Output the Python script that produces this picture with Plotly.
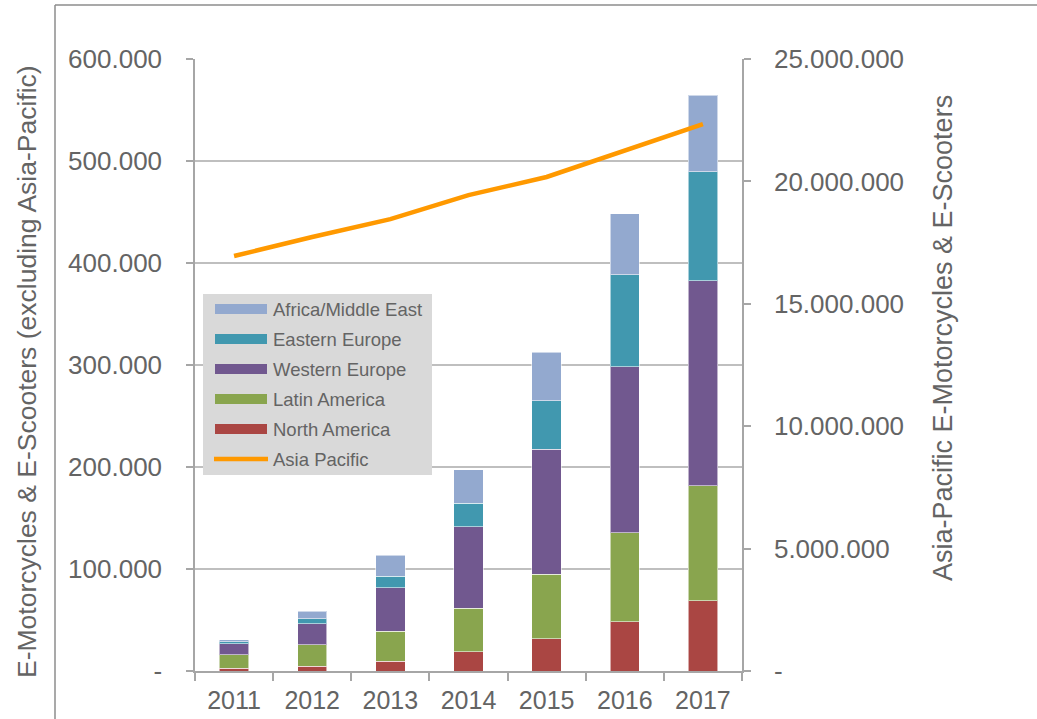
import plotly.graph_objects as go

# ---------------- data ----------------
years = ["2011", "2012", "2013", "2014", "2015", "2016", "2017"]

north_america = [2600, 4900, 9500, 18900, 31700, 48400, 69000]
latin_america = [13100, 20900, 29700, 42500, 63300, 86900, 112400]
western_europe = [10800, 20600, 42500, 79800, 122600, 163100, 201300]
eastern_europe = [2200, 4900, 11100, 23500, 47400, 90100, 106800]
africa_middle_east = [1700, 7500, 20900, 32500, 47500, 59900, 75200]
asia_pacific = [16950000, 17730000, 18460000, 19440000, 20180000, 21240000, 22340000]

series_names = ["North America", "Latin America", "Western Europe",
                "Eastern Europe", "Africa/Middle East"]
series_values = [north_america, latin_america, western_europe,
                 eastern_europe, africa_middle_east]
series_colors = ["#AA4643", "#89A54E", "#71588F", "#4198AF", "#93A9CF"]
line_name = "Asia Pacific"
line_color = "#FF9900"

left_tick_vals = [0, 100000, 200000, 300000, 400000, 500000, 600000]
left_tick_text = ["-", "100.000", "200.000", "300.000", "400.000", "500.000", "600.000"]
right_tick_vals = [0, 5000000, 10000000, 15000000, 20000000, 25000000]
right_tick_text = ["-", "5.000.000", "10.000.000", "15.000.000", "20.000.000", "25.000.000"]

left_title = "E-Motorcycles & E-Scooters (excluding Asia-Pacific)"
right_title = "Asia-Pacific E-Motorcycles & E-Scooters"

# ---------------- layout geometry ----------------
W, H = 1037, 719
L, R, T, B = 195, 295, 59, 48
PW, PH = W - L - R, H - T - B


def px(x):
    return (x - L) / PW


def py(y):
    return (H - B - y) / PH


FONT = "Liberation Sans, Arial, sans-serif"
TXT = "#646464"
GRID = "#BFBFBF"
AXIS = "#A6A6A6"

fig = go.Figure()

for name, vals, col in zip(series_names, series_values, series_colors):
    fig.add_trace(go.Bar(
        x=years, y=vals, name=name,
        marker=dict(color=col, line=dict(color="rgba(255,255,255,0.55)", width=1)),
        showlegend=False,
    ))

fig.add_trace(go.Scatter(
    x=years, y=asia_pacific, name=line_name, yaxis="y2", mode="lines",
    line=dict(color=line_color, width=4.5), showlegend=False,
))

shapes = []
annotations = []

# outer frame (partial border as in reference)
shapes.append(dict(type="line", xref="paper", yref="paper",
                   x0=px(55), x1=px(W + 5), y0=py(5), y1=py(5),
                   line=dict(color="#8C8C8C", width=1.5)))
shapes.append(dict(type="line", xref="paper", yref="paper",
                   x0=px(55), x1=px(55), y0=py(5), y1=py(H + 5),
                   line=dict(color="#8C8C8C", width=1.5)))

# ---------------- custom legend ----------------
shapes.append(dict(type="rect", xref="paper", yref="paper",
                   x0=px(203), x1=px(432), y0=py(475), y1=py(294),
                   fillcolor="#D9D9D9", line=dict(width=0), layer="above"))

legend_items = [(n, c, "bar") for n, c in zip(series_names[::-1], series_colors[::-1])]
legend_items.append((line_name, line_color, "line"))

row_y0 = 309
row_step = 30
for i, (name, col, kind) in enumerate(legend_items):
    yc = row_y0 + i * row_step
    if kind == "bar":
        shapes.append(dict(type="rect", xref="paper", yref="paper",
                           x0=px(215), x1=px(267), y0=py(yc + 5), y1=py(yc - 5),
                           fillcolor=col, line=dict(width=0), layer="above"))
    else:
        shapes.append(dict(type="line", xref="paper", yref="paper",
                           x0=px(214), x1=px(268), y0=py(yc), y1=py(yc),
                           line=dict(color=col, width=4.5), layer="above"))
    annotations.append(dict(xref="paper", yref="paper", x=px(271), y=py(yc),
                            xanchor="left", yanchor="middle", showarrow=False,
                            text=name, font=dict(family=FONT, size=18.5, color=TXT)))

# ---------------- axis titles ----------------
annotations.append(dict(xref="paper", yref="paper", x=px(27), y=py(372),
                        xanchor="center", yanchor="middle", showarrow=False,
                        textangle=-90, text=left_title,
                        font=dict(family=FONT, size=26.5, color=TXT)))
annotations.append(dict(xref="paper", yref="paper", x=px(943), y=py(338),
                        xanchor="center", yanchor="middle", showarrow=False,
                        textangle=-90, text=right_title,
                        font=dict(family=FONT, size=27, color=TXT)))

fig.update_layout(
    width=W, height=H, autosize=False,
    margin=dict(l=L, r=R, t=T, b=B, autoexpand=False),
    paper_bgcolor="white", plot_bgcolor="white",
    barmode="stack", bargap=0.625,
    font=dict(family=FONT, color=TXT),
    showlegend=False,
    shapes=shapes, annotations=annotations,
    xaxis=dict(
        type="category", showgrid=False, showline=True, linecolor=AXIS, linewidth=1.5,
        ticks="outside", tickson="boundaries", ticklen=8, tickcolor=AXIS, tickwidth=1.5,
        tickfont=dict(family=FONT, size=25, color=TXT), ticklabelstandoff=6,
    ),
    yaxis=dict(
        range=[0, 600000], tickvals=left_tick_vals, ticktext=left_tick_text,
        showgrid=True, gridcolor=GRID, gridwidth=1.5, zeroline=False,
        showline=True, linecolor=AXIS, linewidth=1.5,
        ticks="outside", ticklen=7, tickcolor=AXIS, tickwidth=1.5,
        tickfont=dict(family=FONT, size=26, color=TXT), ticklabelstandoff=19,
        automargin=False,
    ),
    yaxis2=dict(
        overlaying="y", side="right", range=[0, 25000000],
        tickvals=right_tick_vals, ticktext=right_tick_text,
        showgrid=False, zeroline=False,
        showline=True, linecolor=AXIS, linewidth=1.5,
        ticks="outside", ticklen=7, tickcolor=AXIS, tickwidth=1.5,
        tickfont=dict(family=FONT, size=26, color=TXT), ticklabelstandoff=18,
        automargin=False,
    ),
)

fig.write_html("out.html", config={"displayModeBar": False},
               post_script="document.body.style.margin='0';")
